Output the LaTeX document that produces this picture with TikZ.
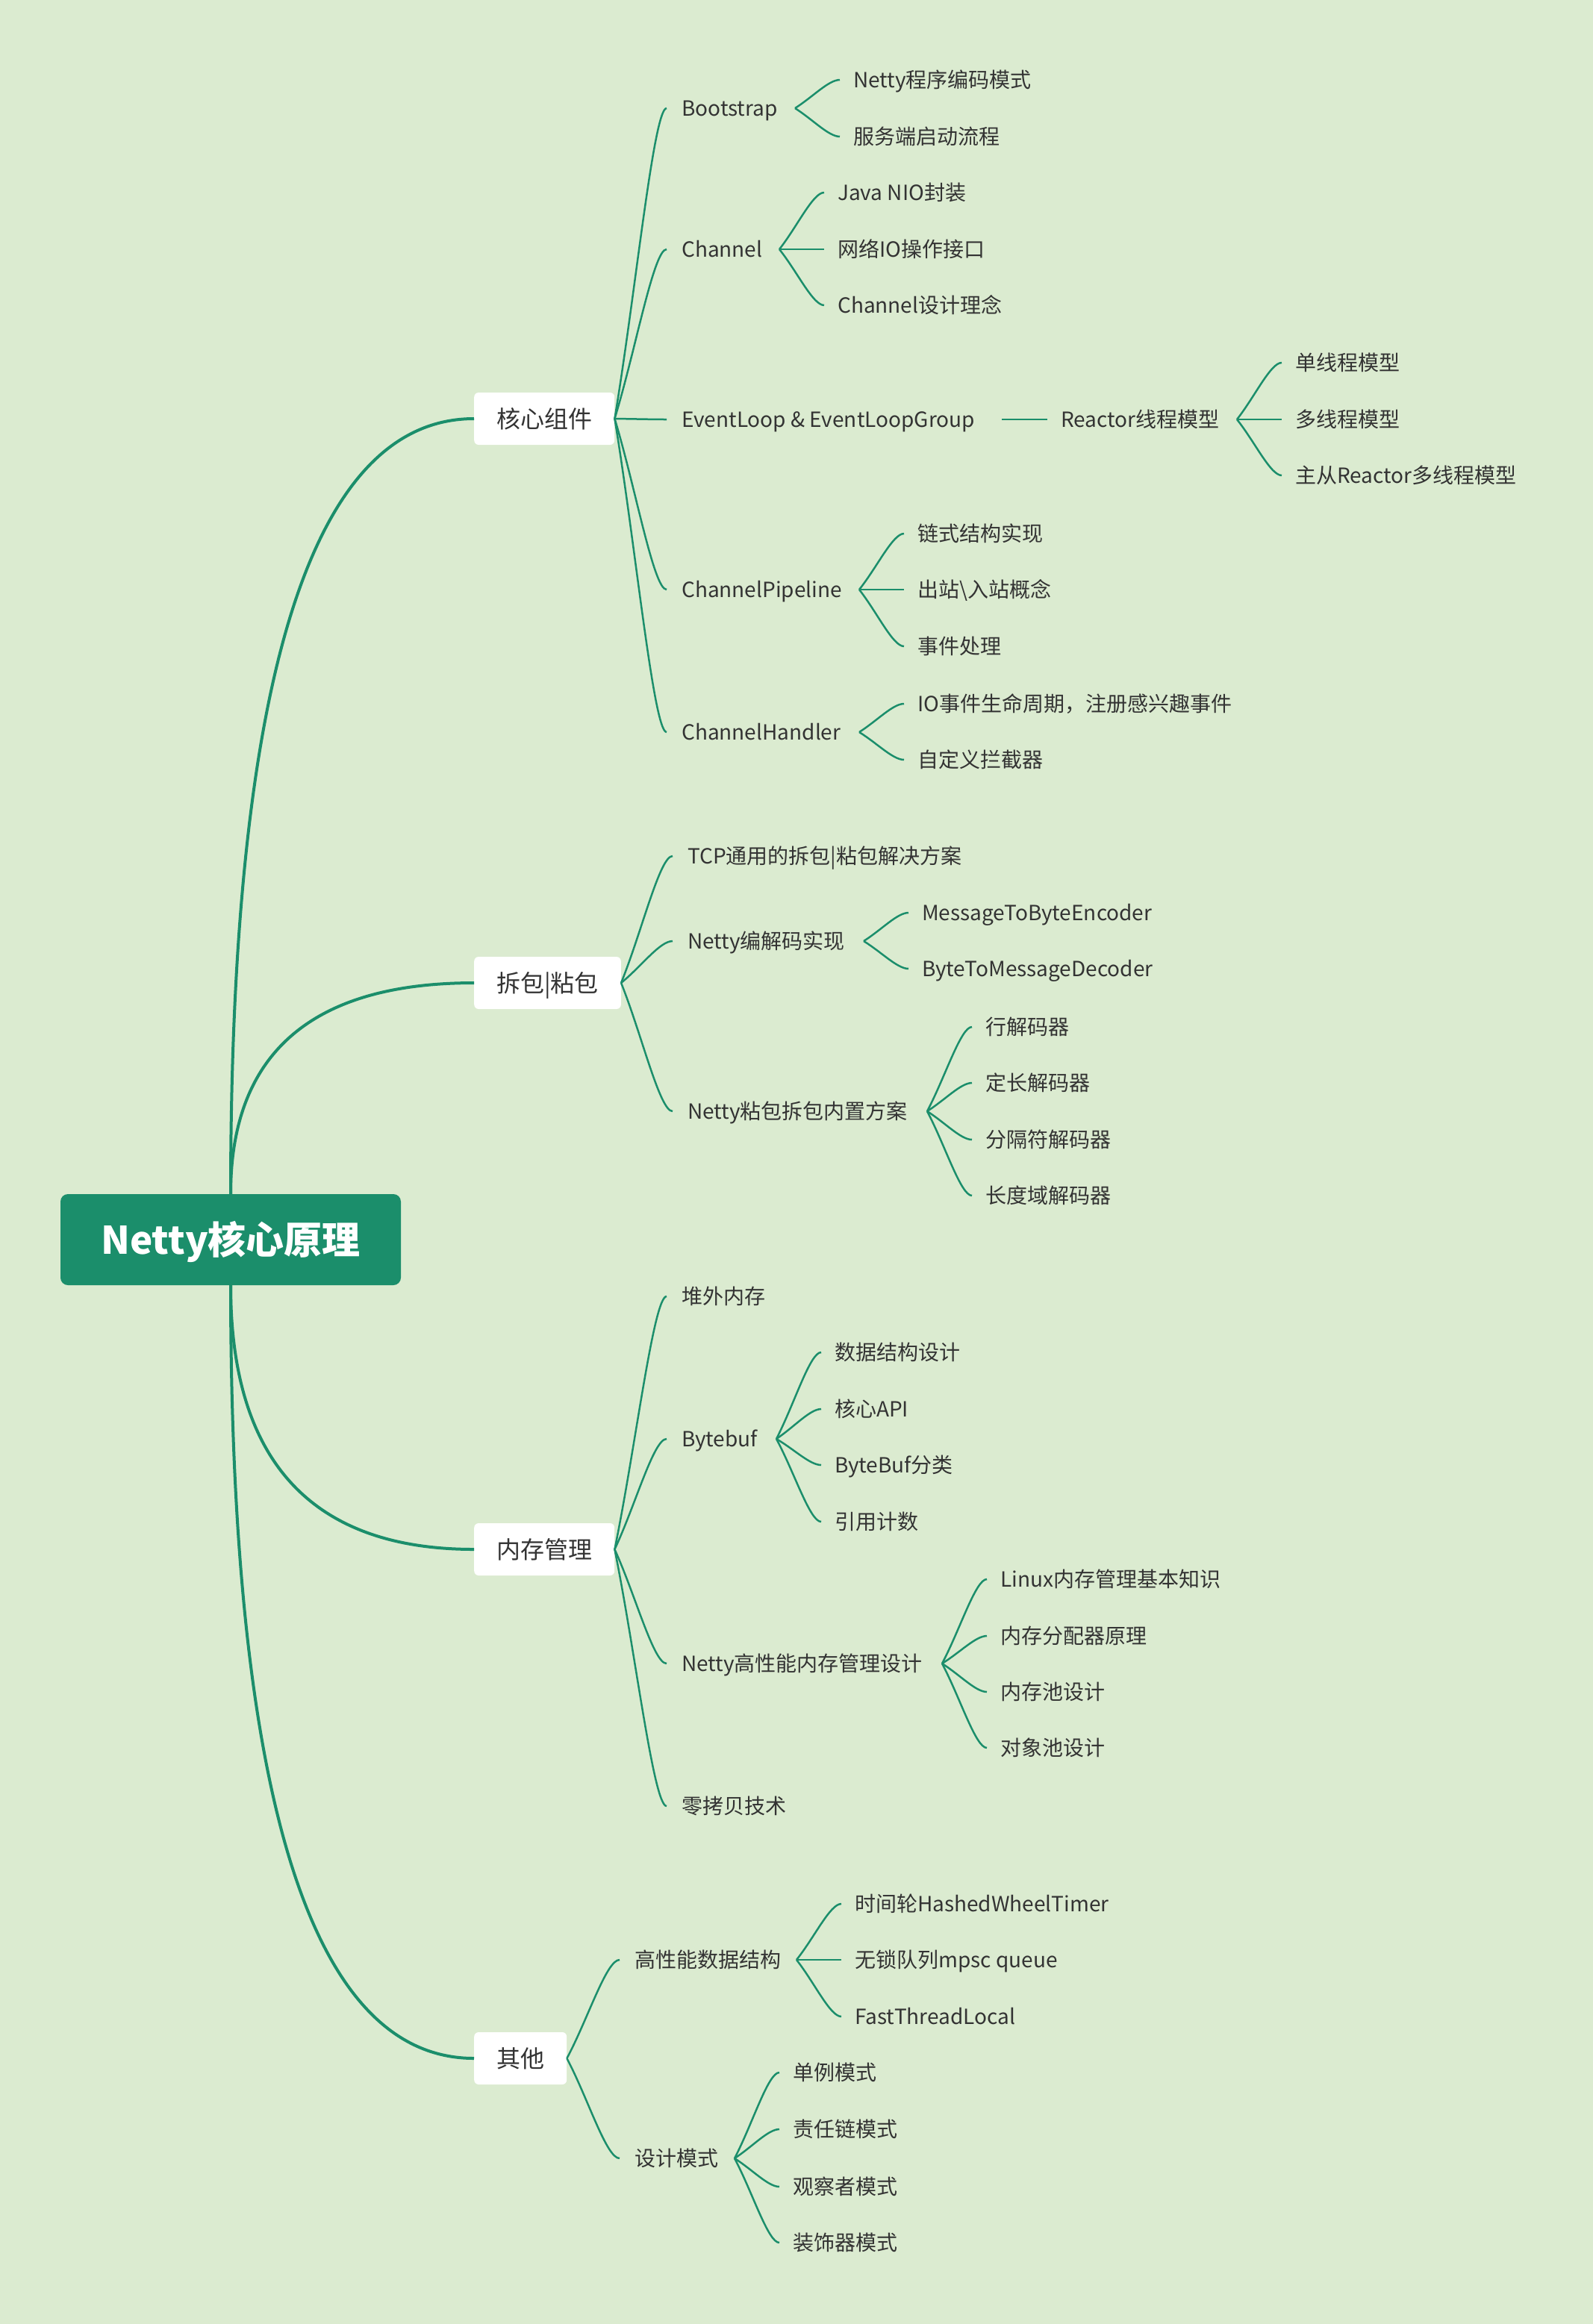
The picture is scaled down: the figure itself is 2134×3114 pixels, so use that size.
\documentclass[tikz,border=0pt]{standalone}
\usepackage{fontspec}
\setmainfont{Noto Sans CJK SC}
\usetikzlibrary{calc}
\definecolor{bg}{HTML}{DBEBD0}
\definecolor{mm}{HTML}{1B8E6B}
\definecolor{tx}{HTML}{333333}
\newcommand\brr[2]{\draw[rootline] let \p1=(#1), \p2=(#2.west) in (\p1) .. controls +(0pt,{2/3*(\y2-\y1)}) and +({-2/3*(\x2-\x1)},0pt) .. (\p2);}
\newcommand\brb[2]{\draw[br] let \p1=(#1.east), \p2=($(#2.west)+(-20pt,0pt)$) in (\p1) .. controls +({0.4*(\x2-\x1)},{0.4*(\y2-\y1)}) and +({-0.25*(\x2-\x1)},0pt) .. (\p2);}
\newcommand\bra[2]{\draw[br] let \p1=($(#2.west |- #1.east)+(-78pt,0pt)$), \p2=($(#2.west)+(-18pt,0pt)$) in (\p1) .. controls +({0.4*(\x2-\x1)},{0.4*(\y2-\y1)}) and +({-0.25*(\x2-\x1)},0pt) .. (\p2);}
\begin{document}
\begin{tikzpicture}[x=1pt,y=-1pt,
  lvtext/.style={anchor=west, inner sep=0pt, text=tx, font=\fontsize{28}{34}\selectfont, text height=24.6pt, text depth=3.4pt},
  lvbox/.style={fill=white, rounded corners=6pt, inner xsep=30pt, inner ysep=0pt, minimum height=70pt, anchor=west, text=tx, font=\fontsize{32}{38}\selectfont, text height=28.2pt, text depth=3.8pt},
  rootbox/.style={fill=mm, rounded corners=10pt, minimum width=456pt, minimum height=122pt, inner sep=0pt, text=white, font=\fontsize{51}{60}\selectfont\bfseries, text height=44.9pt, text depth=6.1pt},
  rootline/.style={draw=mm, line width=4pt},
  br/.style={draw=mm, line width=2.5pt}]
\useasboundingbox (0,0) rectangle (2134,3114);
\fill[bg] (0,0) rectangle (2134,3114);

% root and level 1
\node[rootbox] (root) at (309,1661) {Netty核心原理};
\node[lvbox] (k1) at (635,561) {核心组件};
\node[lvbox] (k2) at (635,1317) {拆包|粘包};
\node[lvbox] (k3) at (635,2076) {内存管理};
\node[lvbox] (k4) at (635,2758) {其他};

% level 2
\node[lvtext] (bs) at (913,145) {Bootstrap};
\node[lvtext] (ch) at (913,334) {Channel};
\node[lvtext] (el) at (913,562) {EventLoop \& EventLoopGroup};
\node[lvtext] (cp) at (913,790) {ChannelPipeline};
\node[lvtext] (chd) at (913,981) {ChannelHandler};

\node[lvtext] (tcp) at (921,1147) {TCP通用的拆包|粘包解决方案};
\node[lvtext] (nc) at (921,1261) {Netty编解码实现};
\node[lvtext] (nb) at (921,1489) {Netty粘包拆包内置方案};

\node[lvtext] (dw) at (913,1737) {堆外内存};
\node[lvtext] (bb) at (913,1928) {Bytebuf};
\node[lvtext] (nm) at (913,2229) {Netty高性能内存管理设计};
\node[lvtext] (zc) at (913,2420) {零拷贝技术};

\node[lvtext] (ds) at (850,2626) {高性能数据结构};
\node[lvtext] (dp) at (850,2892) {设计模式};

% level 3
\node[lvtext] (bs1) at (1143,107) {Netty程序编码模式};
\node[lvtext] (bs2) at (1143,183) {服务端启动流程};
\node[lvtext] (ch1) at (1122,258) {Java NIO封装};
\node[lvtext] (ch2) at (1122,334) {网络IO操作接口};
\node[lvtext] (ch3) at (1122,409) {Channel设计理念};
\node[lvtext] (re) at (1421,562) {Reactor线程模型};
\node[lvtext] (re1) at (1735,486) {单线程模型};
\node[lvtext] (re2) at (1735,562) {多线程模型};
\node[lvtext] (re3) at (1735,637) {主从Reactor多线程模型};
\node[lvtext] (cp1) at (1229,715) {链式结构实现};
\node[lvtext] (cp2) at (1229,790) {出站\textbackslash{}入站概念};
\node[lvtext] (cp3) at (1229,866) {事件处理};
\node[lvtext] (chd1) at (1229,943) {IO事件生命周期，注册感兴趣事件};
\node[lvtext] (chd2) at (1229,1018) {自定义拦截器};

\node[lvtext] (nc1) at (1235,1223) {MessageToByteEncoder};
\node[lvtext] (nc2) at (1235,1298) {ByteToMessageDecoder};
\node[lvtext] (nb1) at (1320,1376) {行解码器};
\node[lvtext] (nb2) at (1320,1451) {定长解码器};
\node[lvtext] (nb3) at (1320,1527) {分隔符解码器};
\node[lvtext] (nb4) at (1320,1602) {长度域解码器};

\node[lvtext] (bb1) at (1118,1812) {数据结构设计};
\node[lvtext] (bb2) at (1118,1888) {核心API};
\node[lvtext] (bb3) at (1118,1963) {ByteBuf分类};
\node[lvtext] (bb4) at (1118,2039) {引用计数};
\node[lvtext] (nm1) at (1340,2116) {Linux内存管理基本知识};
\node[lvtext] (nm2) at (1340,2192) {内存分配器原理};
\node[lvtext] (nm3) at (1340,2267) {内存池设计};
\node[lvtext] (nm4) at (1340,2342) {对象池设计};

\node[lvtext] (ds1) at (1145,2551) {时间轮HashedWheelTimer};
\node[lvtext] (ds2) at (1145,2626) {无锁队列mpsc queue};
\node[lvtext] (ds3) at (1145,2702) {FastThreadLocal};
\node[lvtext] (dp1) at (1062,2777) {单例模式};
\node[lvtext] (dp2) at (1062,2853) {责任链模式};
\node[lvtext] (dp3) at (1062,2930) {观察者模式};
\node[lvtext] (dp4) at (1062,3005) {装饰器模式};

% root connectors
\brr{root.north}{k1}
\brr{root.north}{k2}
\brr{root.south}{k3}
\brr{root.south}{k4}

% level 1 -> level 2
\brb{k1}{bs} \brb{k1}{ch} \brb{k1}{el} \brb{k1}{cp} \brb{k1}{chd}
\brb{k2}{tcp} \brb{k2}{nc} \brb{k2}{nb}
\brb{k3}{dw} \brb{k3}{bb} \brb{k3}{nm} \brb{k3}{zc}
\brb{k4}{ds} \brb{k4}{dp}

% level 2 -> level 3
\bra{bs}{bs1} \bra{bs}{bs2}
\bra{ch}{ch1} \bra{ch}{ch2} \bra{ch}{ch3}
\coordinate (elx) at ([xshift=-79pt]re.west);
\draw[br] (elx) -- ([xshift=-18pt]re.west);
\bra{re}{re1} \bra{re}{re2} \bra{re}{re3}
\bra{cp}{cp1} \bra{cp}{cp2} \bra{cp}{cp3}
\bra{chd}{chd1} \bra{chd}{chd2}
\bra{nc}{nc1} \bra{nc}{nc2}
\bra{nb}{nb1} \bra{nb}{nb2} \bra{nb}{nb3} \bra{nb}{nb4}
\bra{bb}{bb1} \bra{bb}{bb2} \bra{bb}{bb3} \bra{bb}{bb4}
\bra{nm}{nm1} \bra{nm}{nm2} \bra{nm}{nm3} \bra{nm}{nm4}
\bra{ds}{ds1} \bra{ds}{ds2} \bra{ds}{ds3}
\bra{dp}{dp1} \bra{dp}{dp2} \bra{dp}{dp3} \bra{dp}{dp4}
\end{tikzpicture}
\end{document}
